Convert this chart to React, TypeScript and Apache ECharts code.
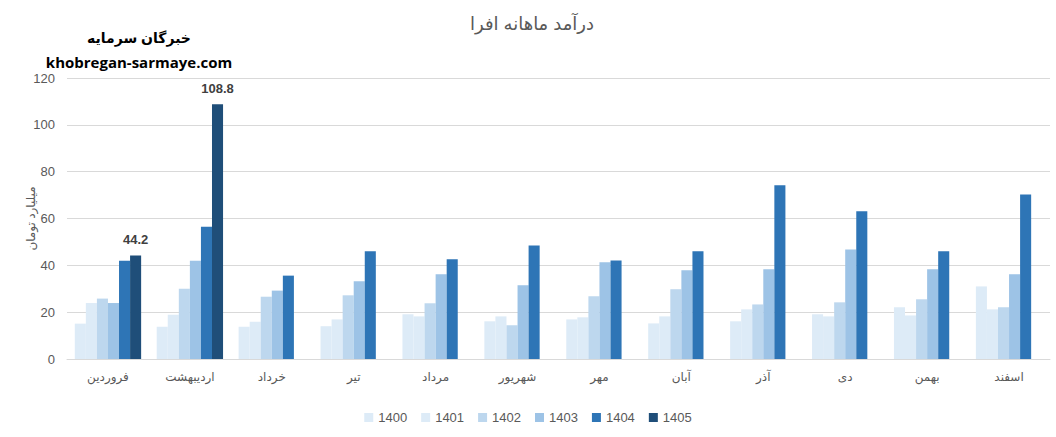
import React, { useEffect, useRef } from "react";
import * as echarts from "echarts";

const months = ["فروردین", "اردیبهشت", "خرداد", "تیر", "مرداد", "شهریور", "مهر", "آبان", "آذر", "دی", "بهمن", "اسفند"];
const years = ["1400", "1401", "1402", "1403", "1404", "1405"];
const v1400 = [15.1, 13.8, 13.8, 14.0, 19.1, 16.1, 16.9, 15.2, 16.1, 19.1, 22.1, 31.0];
const v1401 = [23.9, 18.9, 15.9, 16.9, 18.2, 18.2, 17.8, 18.2, 21.2, 18.2, 18.6, 21.2];
const v1402 = [25.8, 30.0, 26.6, 27.2, 23.8, 14.4, 26.8, 29.8, 23.3, 24.2, 25.5, 22.1];
const v1403 = [23.9, 42.0, 29.2, 33.2, 36.2, 31.5, 41.3, 37.9, 38.3, 46.8, 38.3, 36.2];
const v1404 = [42.0, 56.5, 35.6, 46.0, 42.6, 48.5, 42.1, 46.0, 74.2, 63.1, 46.0, 70.3];
const v1405 = [44.2, 108.8, null, null, null, null, null, null, null, null, null, null];
const seriesValues = [v1400, v1401, v1402, v1403, v1404, v1405];
const colors = ["#DDEBF7", "#DDEBF7", "#BDD7EE", "#9DC3E6", "#2E75B6", "#1F4E79"];
const yTicks = { min: 0, max: 120, interval: 20 };

const FONT = "'Liberation Sans', 'DejaVu Sans', sans-serif";

export default function App() {
  const ref = useRef<HTMLDivElement>(null);
  useEffect(() => {
    if (!ref.current) return;
    const chart = echarts.init(ref.current, null, { renderer: "svg" });
    chart.setOption({
      animation: false,
      backgroundColor: "#ffffff",
      color: colors,
      textStyle: { fontFamily: FONT },
      title: [
        {
          text: "درآمد ماهانه افرا",
          left: 527,
          top: 10,
          textAlign: "center",
          textStyle: { fontSize: 18, fontWeight: "normal", color: "#595959", fontFamily: FONT },
        },
        {
          text: "خبرگان سرمایه",
          left: 134,
          top: 26,
          textAlign: "center",
          textStyle: { fontSize: 14, fontWeight: "bold", color: "#000000", fontFamily: FONT },
        },
        {
          text: "khobregan-sarmaye.com",
          left: 134,
          top: 49,
          textAlign: "center",
          textStyle: { fontSize: 15, fontWeight: "bold", color: "#000000", fontFamily: "'Open Sans', 'DejaVu Sans', sans-serif" },
        },
      ],
      legend: {
        bottom: 8,
        left: "center",
        itemWidth: 9,
        itemHeight: 9,
        itemGap: 14,
        icon: "rect",
        textStyle: { fontSize: 13, color: "#595959", fontFamily: FONT },
        data: years,
      },
      grid: { left: 67, right: 6, top: 78, bottom: 78, containLabel: false },
      xAxis: {
        type: "category",
        data: months,
        axisLine: { lineStyle: { color: "#D9D9D9" } },
        axisTick: { show: false },
        axisLabel: { color: "#595959", fontSize: 12, margin: 12, fontFamily: FONT },
      },
      yAxis: {
        type: "value",
        min: yTicks.min,
        max: yTicks.max,
        interval: yTicks.interval,
        name: "میلیارد تومان",
        nameLocation: "middle",
        nameGap: 30,
        nameRotate: 90,
        nameMoveOverlap: false,
        nameTextStyle: { color: "#595959", fontSize: 12, fontFamily: FONT },
        axisLine: { show: false },
        axisTick: { show: false },
        axisLabel: { color: "#595959", fontSize: 13, margin: 12, fontFamily: FONT },
        splitLine: { lineStyle: { color: "#D9D9D9" } },
      },
      series: years.map((y, i) => ({
        name: y,
        type: "bar",
        data: seriesValues[i],
        barGap: "0%",
        barCategoryGap: "19%",
        itemStyle: { color: colors[i] },
        label:
          i === 5
            ? {
                show: true,
                position: "top",
                distance: 9,
                color: "#404040",
                fontSize: 13,
                fontWeight: "bold",
                fontFamily: FONT,
              }
            : { show: false },
      })),
    });
    return () => chart.dispose();
  }, []);
  return (
    <div
      ref={ref}
      style={{ position: "absolute", left: 0, top: 0, width: 1056, height: 437 }}
    />
  );
}
